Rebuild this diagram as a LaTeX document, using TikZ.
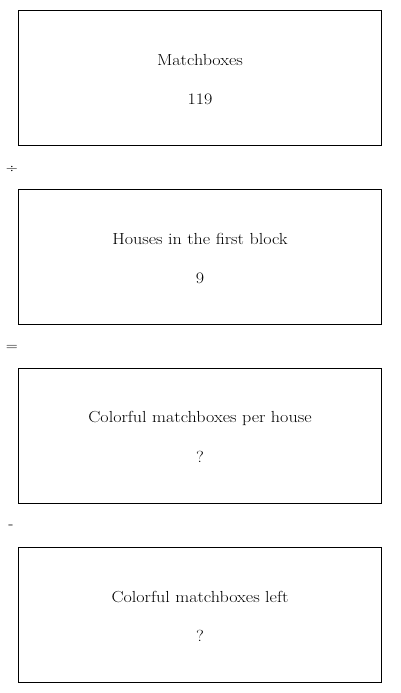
\documentclass[tikz,border=0pt]{standalone}
\usepackage{fontspec}
\setmainfont{Latin Modern Roman}[FakeStretch=1.13]
\begin{document}
\begin{tikzpicture}[x=1pt,y=-1pt,
  box/.style={draw=black,line width=0.8pt,minimum width=363pt,minimum height=135pt,anchor=north west,inner sep=0pt},
  lbl/.style={font=\fontsize{16}{19}\selectfont,inner sep=0pt},
  op/.style={font=\fontsize{14}{16}\selectfont,inner sep=0pt}]
\useasboundingbox (0,0) rectangle (400,693);
\node[box] (b1) at (18,10) {};
\node[box] (b2) at (18,189) {};
\node[box] (b3) at (18,368) {};
\node[box] (b4) at (18,547) {};
\node[lbl] (t1) at (200,60) {Matchboxes};
\node[lbl] (n1) at (200,99) {119};
\node[lbl] (t2) at (200,239) {Houses in the first block};
\node[lbl] (n2) at (200,278) {9};
\node[lbl] (t3) at (200,418) {Colorful matchboxes per house};
\node[lbl] (n3) at (200,457) {?};
\node[lbl] (t4) at (200,597) {Colorful matchboxes left};
\node[lbl] (n4) at (200,636) {?};
\node[op] (o1) at (12,169) {÷};
\node[op] (o2) at (12,348) {=};
\node[op] (o3) at (11,527) {-};
\end{tikzpicture}
\end{document}
